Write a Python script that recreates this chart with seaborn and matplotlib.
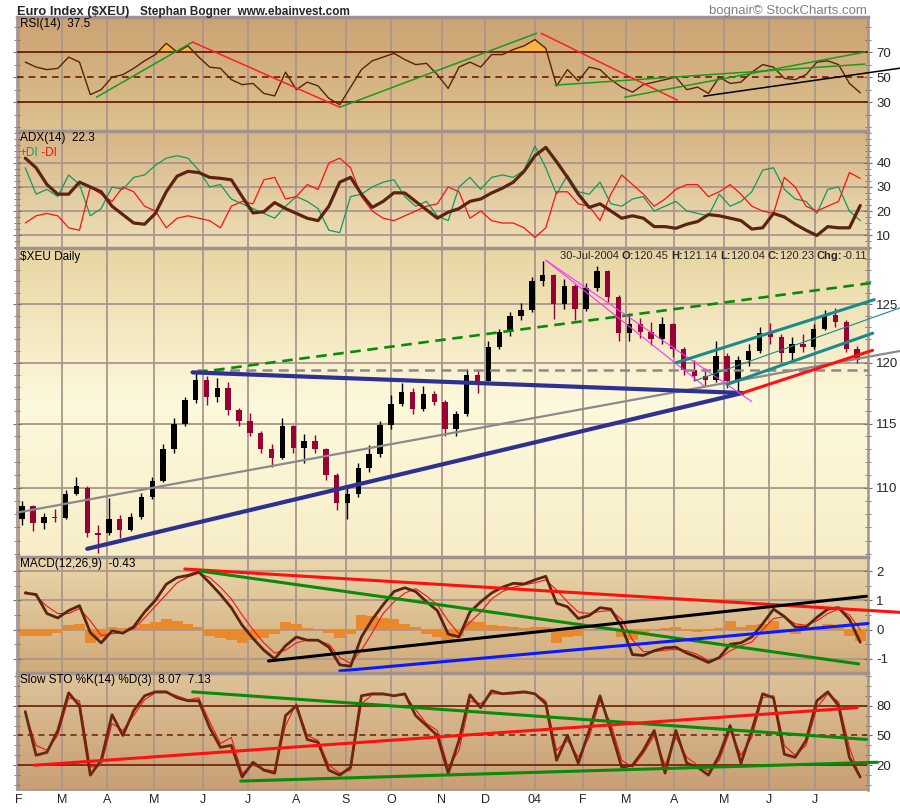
import numpy as np
import pandas as pd
import matplotlib
matplotlib.use("Agg")
import matplotlib.pyplot as plt
from matplotlib.colors import LinearSegmentedColormap
from matplotlib.ticker import MultipleLocator, NullFormatter
import seaborn as sns

sns.set_style("white")
plt.rcParams["font.family"] = ["Liberation Sans", "DejaVu Sans"]

# weekly samples (Fridays) Feb 2003 - 30 Jul 2004
weeks = pd.date_range("2003-02-07", periods=78, freq="W-FRI")

price_open = [107.6, 108.6, 107.3, 107.8, 107.7, 109.5, 110.0, 106.6, 106.6, 107.6,
              106.8, 107.8, 109.3, 110.5, 113.0, 115.0, 116.9, 118.6, 117.2, 117.9,
              116.1, 115.2, 114.3, 113.0, 112.3, 114.8, 113.1, 113.6, 113.0, 111.0,
              108.8, 109.5, 111.5, 112.6, 114.9, 116.6, 117.6, 116.2, 117.4, 116.8,
              114.6, 115.8, 119.0, 118.5, 121.3, 122.6, 124.0, 124.5, 127.0, 127.6,
              125.0, 126.6, 124.6, 126.4, 127.9, 125.6, 122.5, 123.3, 122.6, 122.0,
              123.3, 121.2, 119.4, 118.9, 118.6, 120.6, 118.5, 120.2, 121.0, 122.5,
              122.2, 120.8, 121.6, 121.3, 122.9, 124.1, 123.5, 121.2]
price_high = [109.0, 108.7, 108.1, 108.4, 109.8, 110.8, 110.1, 107.2, 109.2, 107.9,
              108.1, 109.6, 110.8, 113.4, 115.5, 117.2, 119.2, 118.9, 118.7, 118.4,
              116.3, 115.9, 114.4, 113.4, 115.5, 114.9, 114.2, 114.1, 113.1, 111.1,
              110.0, 111.9, 113.3, 115.2, 117.3, 118.3, 117.9, 118.1, 117.7, 116.9,
              116.0, 119.5, 119.4, 121.8, 122.9, 124.3, 125.1, 127.4, 128.8, 127.7,
              127.2, 126.8, 126.9, 128.4, 128.0, 125.8, 124.2, 123.8, 123.5, 123.9,
              123.4, 121.3, 120.2, 119.6, 121.8, 120.8, 120.6, 121.6, 123.0, 123.4,
              122.4, 122.2, 122.4, 123.3, 124.5, 124.7, 123.6, 121.4]
price_low = [107.2, 106.7, 106.9, 107.4, 107.6, 109.4, 106.3, 105.1, 106.4, 106.2,
             106.7, 107.6, 109.1, 110.4, 112.7, 114.8, 116.7, 116.5, 116.8, 115.7,
             114.8, 114.0, 112.7, 111.6, 112.2, 112.7, 111.9, 112.7, 110.6, 108.3,
             107.6, 109.3, 111.2, 112.4, 114.6, 116.4, 115.8, 116.0, 116.5, 114.0,
             114.0, 115.6, 117.5, 118.5, 121.2, 122.3, 123.6, 124.3, 126.6, 123.7,
             124.6, 123.6, 124.4, 126.2, 125.2, 121.8, 121.8, 122.1, 121.5, 121.6,
             120.5, 119.0, 118.5, 118.1, 118.4, 117.9, 117.6, 119.7, 120.8, 121.6,
             120.1, 120.2, 120.9, 121.2, 122.8, 123.0, 120.9, 120.0]
price_close = [108.6, 107.3, 107.8, 107.7, 109.5, 110.1, 106.6, 106.4, 107.6, 106.8,
               107.8, 109.3, 110.5, 113.0, 115.0, 116.9, 118.6, 117.2, 117.9, 116.1,
               115.2, 114.3, 113.0, 112.3, 114.8, 113.1, 113.6, 113.0, 111.0, 108.8,
               109.5, 111.5, 112.6, 114.9, 116.6, 117.6, 116.2, 117.4, 116.8, 114.6,
               115.8, 119.0, 118.5, 121.3, 122.6, 124.0, 124.5, 127.0, 127.6, 125.0,
               126.6, 124.6, 126.4, 127.9, 125.6, 122.5, 123.3, 122.6, 122.0, 123.3,
               121.2, 119.4, 118.9, 118.6, 120.6, 118.5, 120.2, 121.0, 122.5, 122.2,
               120.8, 121.6, 121.3, 122.9, 124.1, 123.5, 121.2, 120.23]

rsi = [62, 58, 56, 57, 66, 62, 36, 40, 50, 52,
       57, 63, 68, 77, 70, 75, 66, 58, 57, 48,
       44, 45, 37, 35, 54, 40, 46, 43, 33, 28,
       42, 56, 63, 66, 69, 64, 60, 61, 52, 41,
       58, 62, 58, 68, 68, 72, 75, 80, 73, 43,
       56, 47, 58, 56, 48, 42, 38, 44, 46, 48,
       50, 40, 42, 37, 50, 45, 46, 54, 60, 58,
       49, 48, 52, 62, 63, 60, 45, 37.5]

adx = [42, 38, 31, 27, 27, 32, 30, 28, 22, 18.5,
       15, 14.5, 19, 28, 34.5, 36.5, 36, 34, 33.6, 33,
       26, 19.2, 19.7, 23.5, 21, 19, 17, 16, 22, 32,
       34, 27, 21.5, 24, 27.6, 27.5, 24, 20.5, 17, 19.5,
       21, 24, 25, 27.5, 29.5, 32, 36.5, 43, 46.5, 40.5,
       34, 27, 21.5, 23, 20, 17, 18, 17, 13.5, 13.5,
       12.8, 14.5, 15.6, 18.5, 18, 17, 16, 12.5, 13, 19,
       17.5, 14.5, 12, 9.8, 13.5, 13, 13, 22.3]
plus_di = [38, 27, 29, 26, 35, 31, 18, 21, 30, 29,
           34, 35, 39, 42, 43, 42, 37, 30, 31, 25,
           23, 21, 19, 17, 22, 26, 24, 21, 12, 11,
           26, 27, 30, 32, 33, 26, 22, 24, 18, 16,
           30, 34, 29, 34, 35, 34, 37, 47, 38, 27,
           35, 28, 27, 32, 23, 22, 25, 26, 20, 22,
           24, 20, 19, 18, 27, 22, 24, 28, 37, 38,
           29, 25, 24, 19, 29, 30, 20, 16]
minus_di = [15, 18, 19, 18, 13, 12, 30, 27, 24, 30,
            28, 22, 20, 13, 17, 18, 17, 16, 13, 22,
            24, 23, 33, 34, 25, 26, 31, 29, 40, 42,
            38, 26, 20, 17, 16, 18, 20, 22, 23, 30,
            28, 17, 20, 16, 15, 15, 13, 9, 13, 28,
            28, 23, 22, 16, 27, 35, 31, 27, 22, 25,
            29, 31, 31, 26, 28, 31, 27, 22, 20, 19,
            34, 30, 22, 20, 22, 24, 36, 33.6]

macd = [1.25, 1.2, 0.55, 0.4, 0.65, 0.82, -0.1, -0.45, -0.04, -0.12,
        0.1, 0.6, 1.0, 1.55, 1.78, 1.85, 1.97, 1.6, 1.2, 0.75,
        0.15, -0.3, -0.7, -1.0, -0.55, -0.25, -0.36, -0.36, -0.6, -1.2,
        -1.25, -0.25, 0.35, 0.85, 1.3, 1.43, 1.3, 0.95, 0.65, -0.15,
        -0.25, 0.6, 0.95, 1.25, 1.45, 1.58, 1.56, 1.7, 1.82, 0.9,
        0.78, 0.38, 0.48, 0.75, 0.7, 0.1, -0.85, -0.88, -0.72, -0.62,
        -0.6, -0.8, -0.95, -1.12, -0.95, -0.5, -0.45, -0.25, 0.2, 0.7,
        0.45, 0.09, 0.09, 0.42, 0.7, 0.75, 0.35, -0.43]
macd_signal = [1.3, 1.15, 0.8, 0.55, 0.55, 0.72, 0.3, -0.2, -0.14, -0.1,
               0.03, 0.4, 0.8, 1.2, 1.6, 1.8, 1.93, 1.78, 1.45, 1.05,
               0.5, 0.0, -0.45, -0.8, -0.7, -0.45, -0.35, -0.38, -0.5, -0.95,
               -1.15, -0.7, -0.1, 0.55, 0.95, 1.25, 1.4, 1.15, 0.85, 0.3,
               -0.15, 0.25, 0.6, 1.05, 1.3, 1.45, 1.53, 1.6, 1.7, 1.35,
               0.95, 0.6, 0.55, 0.62, 0.65, 0.35, -0.35, -0.75, -0.75, -0.7,
               -0.68, -0.72, -0.85, -1.05, -0.98, -0.72, -0.55, -0.42, 0.0, 0.38,
               0.44, 0.2, 0.15, 0.3, 0.55, 0.7, 0.5, 0.0]
macd_hist = [-0.2, -0.22, -0.22, -0.12, 0.15, 0.2, -0.45, -0.3, 0.08, 0.06,
             0.08, 0.2, 0.25, 0.38, 0.3, 0.2, 0.1, -0.2, -0.3, -0.35,
             -0.45, -0.35, -0.3, -0.15, 0.25, 0.2, 0.05, 0.03, -0.1, -0.3,
             -0.15, 0.5, 0.45, 0.4, 0.35, 0.2, 0.1, -0.15, -0.25, -0.35,
             -0.2, 0.3, 0.25, 0.15, 0.12, 0.1, 0.05, 0.1, 0.1, -0.45,
             -0.25, -0.2, 0.0, 0.08, 0.05, -0.25, -0.35, -0.1, 0.0, 0.05,
             0.08, -0.05, -0.08, -0.05, 0.05, 0.3, 0.1, 0.15, 0.2, 0.3,
             0.0, -0.15, -0.05, 0.1, 0.18, 0.1, -0.2, -0.4]

sto_k = [74, 30, 33, 55, 93, 80, 10, 25, 71, 50,
         75, 90, 94, 94, 88, 85, 85, 58, 38, 40,
         8, 23, 15, 12, 70, 80, 46, 43, 15, 10,
         18, 90, 92, 92, 90, 92, 70, 60, 50, 12,
         45, 91, 78, 95, 92, 93, 94, 92, 82, 25,
         50, 22, 55, 90, 55, 18, 20, 35, 55, 12,
         55, 22, 18, 10, 30, 60, 22, 55, 92, 88,
         31, 28, 45, 85, 94, 80, 28, 8.07]
sto_d = [72, 40, 35, 50, 88, 85, 18, 20, 62, 55,
         70, 86, 93, 93, 90, 86, 88, 64, 42, 48,
         12, 20, 16, 14, 60, 82, 50, 45, 20, 12,
         15, 82, 91, 91, 90, 91, 76, 62, 55, 18,
         35, 85, 82, 92, 92, 92, 93, 92, 85, 35,
         45, 28, 48, 85, 62, 25, 18, 32, 50, 20,
         48, 28, 20, 14, 25, 55, 30, 48, 88, 90,
         40, 30, 40, 78, 92, 84, 38, 7.13]

month_starts = pd.to_datetime([
    "2003-02-03", "2003-03-03", "2003-04-01", "2003-05-01", "2003-06-02",
    "2003-07-01", "2003-08-01", "2003-09-02", "2003-10-01", "2003-11-03",
    "2003-12-01", "2004-01-02", "2004-02-02", "2004-03-01", "2004-04-01",
    "2004-05-03", "2004-06-01", "2004-07-01"])
month_labels = ["F", "M", "A", "M", "J", "J", "A", "S", "O", "N", "D", "04",
                "F", "M", "A", "M", "J", "J"]

# hand drawn trendlines: (date, value) end points
rsi_up1 = [("2003-03-25", 34), ("2003-05-26", 78)]
rsi_down1 = [("2003-05-26", 78), ("2003-08-29", 26)]
rsi_up2 = [("2003-08-29", 26), ("2004-01-03", 85)]
rsi_down2 = [("2004-01-06", 85), ("2004-04-03", 31.6)]
rsi_chan_low = [("2004-01-15", 43.6), ("2004-08-02", 60.4)]
rsi_chan_high = [("2004-02-29", 34), ("2004-08-02", 70)]
rsi_black = [("2004-04-20", 34.8), ("2004-08-25", 57.2)]

px_support = [("2003-03-19", 105.4), ("2004-05-15", 117.5)]
px_neck = [("2003-05-26", 119.2), ("2004-05-15", 117.5)]
px_gray = [("2003-02-02", 108.1), ("2004-08-25", 121.0)]
px_green_dash = [("2003-05-29", 119.2), ("2004-08-08", 126.9)]
px_gray_dash = [("2003-05-29", 119.4), ("2004-08-04", 119.4)]
px_mag_a = [("2004-01-09", 128.9), ("2004-05-21", 116.8)]
px_mag_b = [("2004-01-09", 128.9), ("2004-04-20", 118.1)]
px_teal_up = [("2004-04-02", 120.0), ("2004-08-08", 125.4)]
px_teal_mid = [("2004-04-14", 118.5), ("2004-08-25", 124.7)]
px_teal_low = [("2004-05-05", 118.2), ("2004-08-07", 122.5)]
px_red = [("2004-05-15", 117.5), ("2004-08-07", 121.05)]

macd_red = [("2003-05-21", 2.07), ("2004-08-25", 0.59)]
macd_green = [("2003-05-31", 2.0), ("2004-07-29", -1.17)]
macd_black = [("2003-07-14", -1.07), ("2004-08-03", 1.14)]
macd_blue = [("2003-08-29", -1.41), ("2004-08-04", 0.21)]

sto_green_top = [("2003-05-26", 94), ("2004-08-03", 46)]
sto_red = [("2003-02-13", 20), ("2004-07-28", 78)]
sto_green_low = [("2003-06-26", 4), ("2004-08-10", 23)]

x0, x1 = pd.Timestamp("2003-02-01 16:00"), pd.Timestamp("2004-08-04")
grid_c = "#ab968c"
frame_c = "#a0928c"
brown = "#5a2208"

fig = plt.figure(figsize=(9, 8.1), dpi=100)


def make_panel(top, bottom, colors):
    r = [17 / 900, 1 - bottom / 810, 851 / 900, (bottom - top) / 810]
    bg = fig.add_axes(r, zorder=0)
    cmap = LinearSegmentedColormap.from_list("bg", colors)
    bg.imshow(np.linspace(0, 1, 200).reshape(-1, 1), cmap=cmap, aspect="auto",
              extent=[0, 1, 0, 1], interpolation="bilinear")
    bg.axis("off")
    ax = fig.add_axes(r, zorder=1)
    ax.set_facecolor("none")
    for s in ax.spines.values():
        s.set_color(frame_c)
        s.set_linewidth(1.2)
    ax.spines["top"].set_linewidth(2.5)
    ax.spines["right"].set_linewidth(1.8)
    return ax


def style(ax, ylim, yticks, minor, hgrid=False):
    ax.set_xlim(x0, x1)
    ax.set_ylim(*ylim)
    ax.set_yticks(yticks, labels=[f"{t:g}" for t in yticks])
    ax.yaxis.set_minor_locator(MultipleLocator(minor))
    ax.yaxis.set_minor_formatter(NullFormatter())
    ax.tick_params(axis="y", which="both", left=True, right=True, labelleft=False,
                   labelright=True, direction="inout", color="#7a6a60",
                   labelsize=9.5, pad=3)
    ax.tick_params(axis="y", which="major", length=6)
    ax.tick_params(axis="y", which="minor", length=4)
    ax.set_xticks(month_starts)
    ax.tick_params(axis="x", length=0, labelbottom=False)
    ax.grid(axis="x", color=grid_c, lw=1.3)
    if hgrid:
        ax.grid(axis="y", which="major", color=grid_c, lw=1.3)
    ax.set_xlabel("")
    ax.set_ylabel("")


def trend(ax, pts, color, lw, ls="-"):
    d = pd.to_datetime([p[0] for p in pts])
    v = [p[1] for p in pts]
    ax.plot(d, v, color=color, lw=lw, ls=ls, clip_on=False, zorder=6)


def label(ax, txt, color="black"):
    return ax.text(0.003, 0.99, txt, transform=ax.transAxes, va="top", ha="left",
                   fontsize=8.5, color=color, parse_math=False, zorder=8)


# ---- RSI
ax = make_panel(17, 131, ["#cca273", "#ddc290"])
r = np.array(rsi, dtype=float)
ax.fill_between(weeks, r, 70, where=r > 70, interpolate=True, color="#f5b540", zorder=2)
ax.fill_between(weeks, r, 30, where=r < 30, interpolate=True, color="#f5b540", zorder=2)
for lvl in (70, 30):
    ax.axhline(lvl, color="#6a1e04", lw=1.3, zorder=3)
ax.axhline(50, color="#6a1e04", lw=1.2, ls=(0, (4, 3)), zorder=3)
sns.lineplot(x=weeks, y=rsi, ax=ax, color=brown, linewidth=1.0, zorder=4)
trend(ax, rsi_up1, "#1a9a1a", 1.1)
trend(ax, rsi_down1, "#ff2020", 1.1)
trend(ax, rsi_up2, "#1a9a1a", 1.1)
trend(ax, rsi_down2, "#ff2020", 1.1)
trend(ax, rsi_chan_low, "#1a9a1a", 1.1)
trend(ax, rsi_chan_high, "#1a9a1a", 1.1)
trend(ax, rsi_black, "black", 1.1)
style(ax, (7, 98), [30, 50, 70], 10)
label(ax, "RSI(14)  37.5")

# ---- ADX
ax = make_panel(131, 248, ["#d6b485", "#eee0b8"])
sns.lineplot(x=weeks, y=plus_di, ax=ax, color="#0f9a5c", linewidth=0.9, zorder=3)
sns.lineplot(x=weeks, y=minus_di, ax=ax, color="#ff1010", linewidth=0.9, zorder=3)
sns.lineplot(x=weeks, y=adx, ax=ax, color="#5c2410", linewidth=2.3, zorder=4)
style(ax, (4.6, 53.3), [10, 20, 30, 40], 2.5, hgrid=True)
label(ax, "ADX(14)  22.3")
t1 = ax.text(0.003, 0.86, "+DI", transform=ax.transAxes, va="top", fontsize=8.5,
             color="#0f9a5c", zorder=8)
ax.annotate(" -DI", xycoords=t1, xy=(1, 0), va="bottom", fontsize=8.5,
            color="#ff1010", zorder=8)

# ---- price
ax = make_panel(248, 557, ["#e8d5a2", "#fdf9dc", "#f7eec8"])
ax.set_yscale("log")
cx = weeks - pd.Timedelta(days=2)
for d, o, h, l, c in zip(cx, price_open, price_high, price_low, price_close):
    col = "black" if c >= o else "#990033"
    ax.vlines(d, l, h, color=col, lw=1.0, zorder=3)
    ax.bar(d, c - o if c != o else 0.05, bottom=o, width=3.5, color=col, lw=0, zorder=3)
trend(ax, px_gray, "#8a8a8a", 1.6)
trend(ax, px_gray_dash, "#8a8a8a", 1.8, ls=(0, (4, 2.5)))
trend(ax, px_green_dash, "#0a8a0a", 1.9, ls=(0, (4, 2.5)))
trend(ax, px_support, "#2e3192", 3.0)
trend(ax, px_neck, "#2e3192", 3.0)
trend(ax, px_mag_a, "#ff33ff", 0.8)
trend(ax, px_mag_b, "#ff33ff", 0.8)
trend(ax, px_teal_up, "#1a8a8a", 2.2)
trend(ax, px_teal_mid, "#1a8a8a", 0.8)
trend(ax, px_teal_low, "#1a8a8a", 2.2)
trend(ax, px_red, "#ff1010", 2.2)
style(ax, (104.8, 130.0), [110, 115, 120, 125], 1, hgrid=True)
label(ax, "$XEU Daily")
pieces = [("30-Jul-2004 ", "normal"), ("O:", "bold"), ("120.45 ", "normal"),
          ("H:", "bold"), ("121.14 ", "normal"), ("L:", "bold"), ("120.04 ", "normal"),
          ("C:", "bold"), ("120.23 ", "normal"), ("Chg:", "bold"), ("-0.11", "normal")]
prev = ax.text(0.638, 0.99, pieces[0][0], transform=ax.transAxes, va="top",
               fontsize=8, zorder=8)
for txt, wt in pieces[1:]:
    prev = ax.annotate(txt, xycoords=prev, xy=(1, 0), va="bottom", fontsize=8,
                       fontweight=wt, zorder=8)

# ---- MACD
ax = make_panel(557, 673, ["#e9d7ab", "#d0aa7a"])
ax.bar(weeks, macd_hist, width=7, color="#e8892e", lw=0, zorder=2)
sns.lineplot(x=weeks, y=macd_signal, ax=ax, color="#ff1010", linewidth=0.8, zorder=3)
sns.lineplot(x=weeks, y=macd, ax=ax, color="#5c2410", linewidth=2.0, zorder=4)
trend(ax, macd_red, "#ff1010", 2.2)
trend(ax, macd_green, "#0a8a0a", 2.2)
trend(ax, macd_black, "black", 2.2)
trend(ax, macd_blue, "#0a1aff", 2.2)
style(ax, (-1.48, 2.48), [-1, 0, 1, 2], 0.5, hgrid=True)
label(ax, "MACD(12,26,9)  -0.43")

# ---- Slow stochastic
ax = make_panel(673, 790, ["#dec399", "#c99f74"])
for lvl in (80, 20):
    ax.axhline(lvl, color="#6a1e04", lw=1.2, zorder=2)
ax.axhline(50, color="#6a1e04", lw=1.1, ls=(0, (4, 3)), zorder=2)
sns.lineplot(x=weeks, y=sto_d, ax=ax, color="#ff1010", linewidth=0.8, zorder=3)
sns.lineplot(x=weeks, y=sto_k, ax=ax, color="#6b2810", linewidth=2.0, zorder=4)
trend(ax, sto_green_top, "#0a8a0a", 2.2)
trend(ax, sto_red, "#ff1010", 2.2)
trend(ax, sto_green_low, "#0a8a0a", 2.2)
style(ax, (-5, 113), [20, 50, 80], 10)
ax.set_xticks(month_starts, labels=month_labels)
ax.tick_params(axis="x", labelbottom=True, labelsize=9, pad=3)
label(ax, "Slow STO %K(14) %D(3)  8.07  7.13")

# ---- header
fig.text(17 / 900, 1 - 15 / 810, "Euro Index ($XEU)", fontsize=9.3, fontweight="bold",
         ha="left", va="baseline", parse_math=False)
fig.text(140 / 900, 1 - 15 / 810, "Stephan Bogner  www.ebainvest.com", fontsize=8.5,
         fontweight="bold", ha="left", va="baseline")
fig.text(867 / 900, 1 - 14 / 810, "bognair\u00a9 StockCharts.com", fontsize=9.5,
         color="#808080", ha="right", va="baseline")

fig.savefig("out.png", dpi=100)
